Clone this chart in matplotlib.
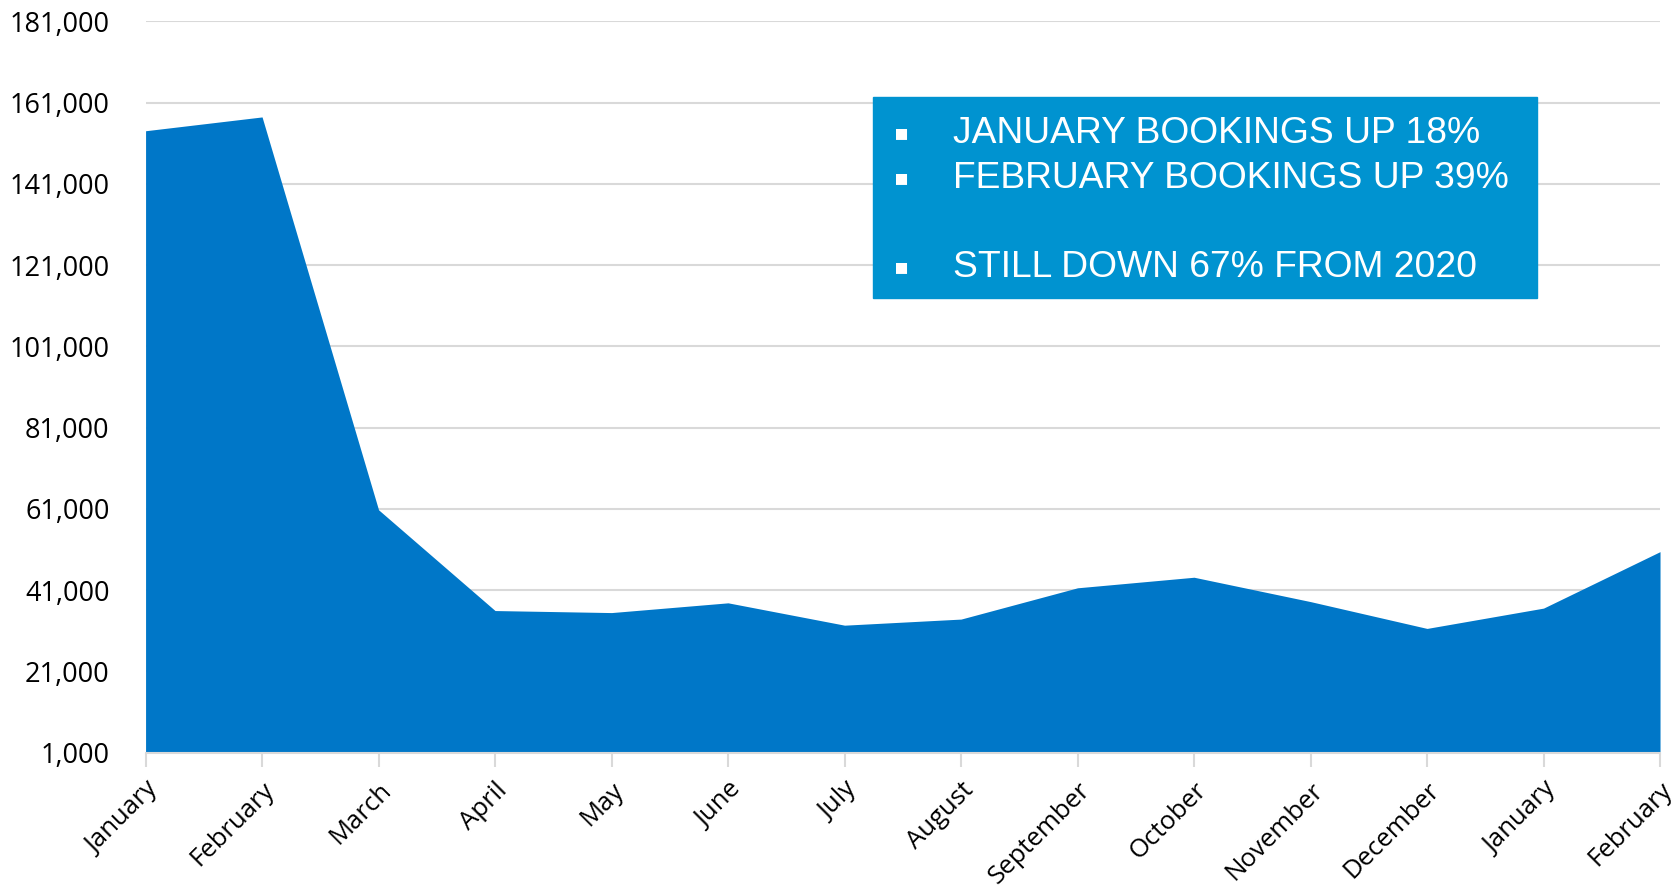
import numpy as np
import matplotlib
matplotlib.use("Agg")
import matplotlib.pyplot as plt
from matplotlib.patches import Rectangle

months = ["January", "February", "March", "April", "May", "June", "July",
          "August", "September", "October", "November", "December",
          "January", "February"]
bookings = [154100, 157500, 60800, 36000, 35500, 37900, 32400,
            33900, 41600, 44200, 38200, 31600, 36600, 50500]
yticks = [1000, 21000, 41000, 61000, 81000, 101000, 121000, 141000, 161000, 181000]
notes = ["JANUARY BOOKINGS UP 18%", "FEBRUARY BOOKINGS UP 39%", "STILL DOWN 67% FROM 2020"]

area_col = "#0077C8"
box_col = "#0093D0"
grid_col = "#D9D9D9"

fig = plt.figure(figsize=(16.79, 8.94), dpi=100)
ax = fig.add_axes([0.0867, 0.158, 0.902, 0.818])

xs = np.arange(len(months))
ax.fill_between(xs, yticks[0], bookings, color=area_col, lw=0, zorder=2)

ax.set_xlim(xs[0], xs[-1])
ax.set_ylim(yticks[0], yticks[-1])
ax.set_yticks(yticks)
ax.set_yticklabels([f"{v:,}" for v in yticks], fontsize=19.5, family="Open Sans")
ax.set_xticks(xs)
ax.set_xticklabels(months, rotation=45, ha="right", va="top",
                   rotation_mode="anchor", fontsize=18.5, family="Open Sans")

ax.yaxis.grid(True, color=grid_col, lw=1.5, zorder=0)
for s in ["top", "right", "left"]:
    ax.spines[s].set_visible(False)
ax.spines["bottom"].set_color(grid_col)
ax.spines["bottom"].set_linewidth(1.5)
ax.spines["bottom"].set_zorder(3)
ax.tick_params(axis="y", length=0, pad=26)
ax.tick_params(axis="x", length=10, width=1.5, color=grid_col, pad=8)

# callout box
fig.patches.append(Rectangle((0.5198, 0.667), 0.3954, 0.224,
                             transform=fig.transFigure, color=box_col, zorder=5))
ys = [0.851, 0.8006, 0.7011]
for y, t in zip(ys, notes):
    fig.text(0.5370, y, "\u25aa", color="white", fontsize=16, va="center",
             ha="center", family="DejaVu Sans", zorder=6)
    fig.text(0.5676, y, t, color="white", fontsize=26.8, va="center",
             ha="left", family="Liberation Sans", zorder=6)

fig.savefig("out.png", dpi=100)
